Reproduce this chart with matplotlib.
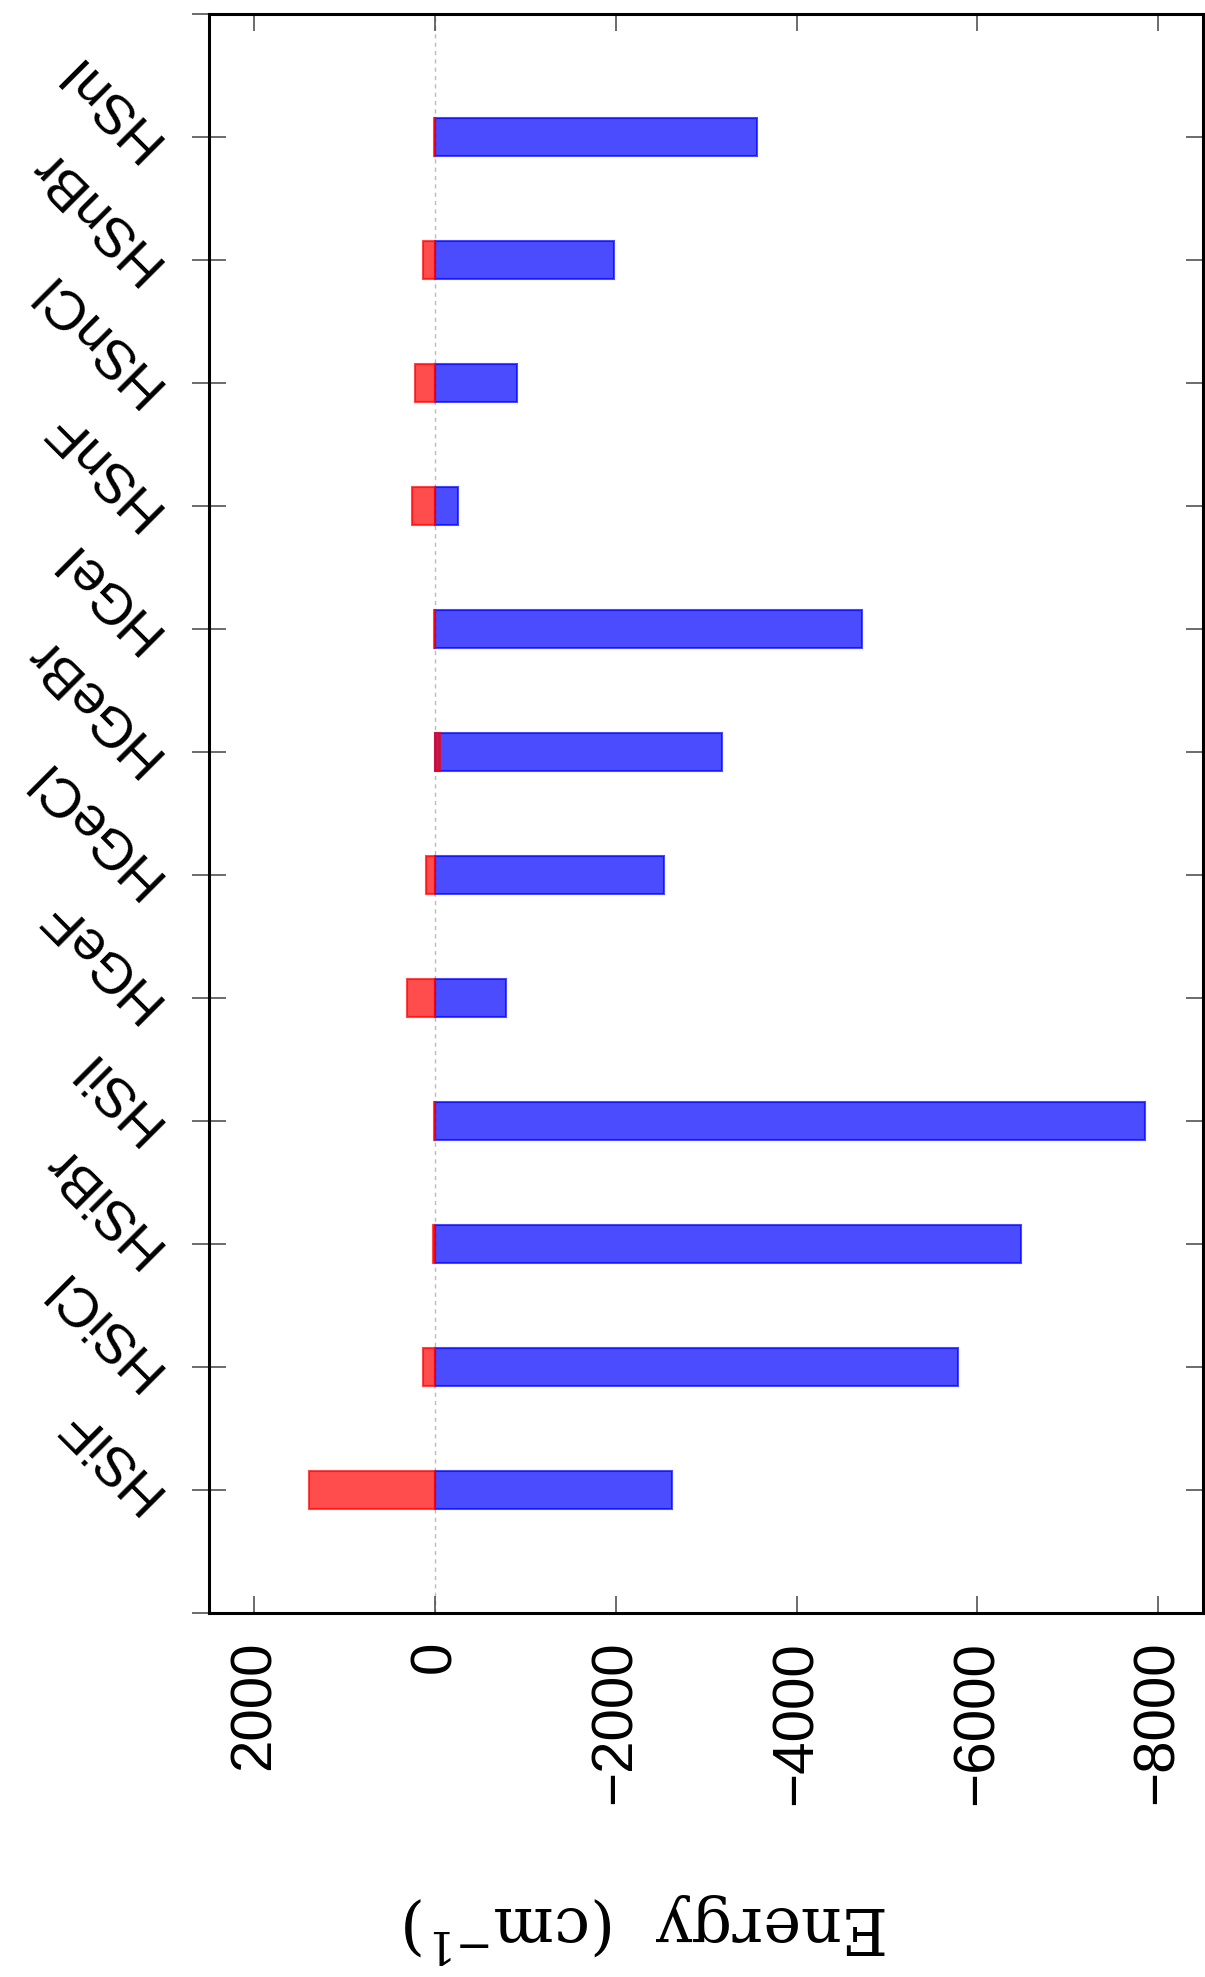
import numpy as np
import matplotlib
matplotlib.use("Agg")
import matplotlib.pyplot as plt

# molecules, bottom to top
molecules = ["HSiF", "HSiCl", "HSiBr", "HSiI",
             "HGeF", "HGeCl", "HGeBr", "HGeI",
             "HSnF", "HSnCl", "HSnBr", "HSnI"]

# energy contributions (cm^-1)
blue_energy = [-2620, -5790, -6490, -7860,
               -780, -2530, -3170, -4720,
               -250, -910, -1980, -3560]
red_energy = [1401, 137, 20, 10,
              314, 103, -50, 10,
              252, 225, 137, 10]

energy_ticks = [2000, 0, -2000, -4000, -6000, -8000]

plt.rcParams["font.family"] = ["Liberation Sans", "DejaVu Sans"]
plt.rcParams["mathtext.fontset"] = "dejavuserif"

fig = plt.figure(figsize=(12.05, 19.77), dpi=100)
ax = fig.add_axes([0.1737, 0.1841, 0.8247, 0.8088])

pos = np.arange(len(molecules))

ax.axvline(0, color="#bbbbbb", lw=1.0, ls=(0, (3, 3)), zorder=0)

ax.barh(pos, blue_energy, height=0.31, color="blue", edgecolor="blue",
        alpha=0.7, lw=1.5, zorder=2)
ax.barh(pos, red_energy, height=0.31, color="red", edgecolor="red",
        alpha=0.7, lw=1.5, zorder=3)

ax.set_xlim(2500, -8500)
ax.set_ylim(-1, 12)

ax.set_xticks(energy_ticks)
ax.set_xticklabels(["\u2212" * (t < 0) + str(abs(t)) for t in energy_ticks],
                   rotation=90, fontsize=42)

ax.set_yticks(np.arange(-1, 13))
ax.set_yticklabels([""] + molecules + [""], fontsize=40, rotation=135,
                   rotation_mode="anchor", ha="left", va="baseline")

ax.tick_params(axis="x", which="major", direction="in", top=True, bottom=True,
               length=12, width=1.1, color="#444444", pad=20)
ax.tick_params(axis="y", which="major", direction="inout", left=True, right=True,
               length=24, width=1.1, color="#444444", pad=22)

for sp in ax.spines.values():
    sp.set_linewidth(2.2)
    sp.set_color("black")

ax.set_xlabel(r"Energy  (cm$^{-1}$)", fontsize=46, family="DejaVu Serif",
              rotation=180, va="center", ha="center")
ax.xaxis.set_label_coords(0.44, -0.197)

fig.savefig("out.png", dpi=100)
